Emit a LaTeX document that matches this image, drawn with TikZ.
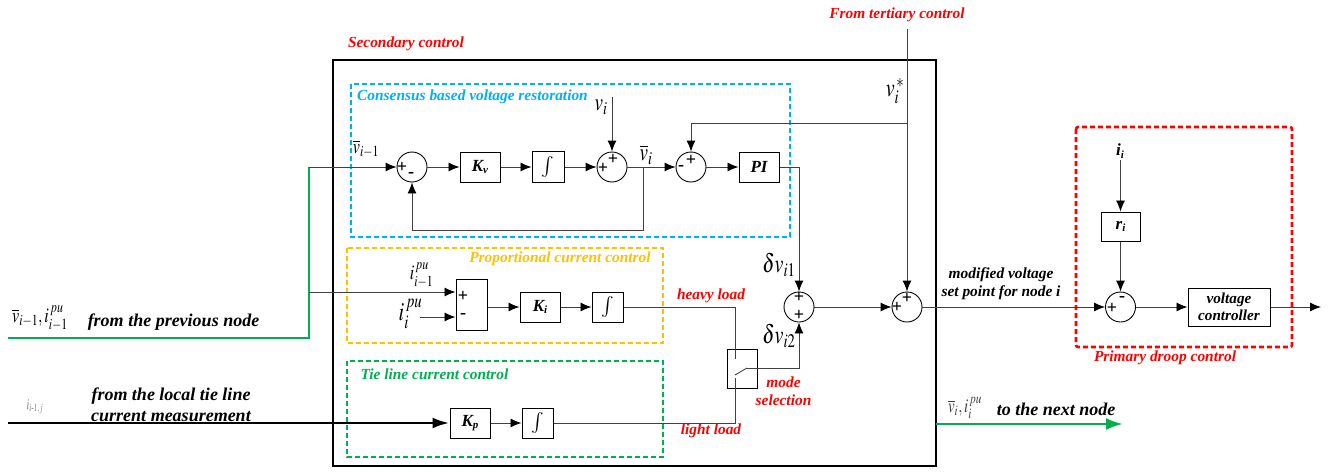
\documentclass[tikz,border=0pt]{standalone}
\usepackage{amsmath}
\usepackage{graphicx}
\usepackage{mathptmx}
\usepackage[no-math]{fontspec}
\setmainfont{Liberation Serif}
\usepackage{tikz}
\usetikzlibrary{arrows.meta}
\newcommand{\tallmath}[1]{\scalebox{1}[1.3]{$#1$}}
\newcommand{\blocksub}[2]{#1\raisebox{-2.5pt}{\fontsize{11}{11}\selectfont #2}}
\newcommand{\intsign}{\fontsize{21}{21}\selectfont$\int$}
\tikzset{
  sumnode/.style={circle,draw,line width=0.9pt,minimum size=30pt,inner sep=0pt,fill=white},
  blocknode/.style={rectangle,draw,line width=1pt,inner sep=0pt,fill=white,font=\fontsize{17}{17}\selectfont\bfseries\itshape},
  signnode/.style={inner sep=0pt,font=\fontsize{18}{18}\selectfont\bfseries},
  labelnode/.style={inner sep=0pt,align=center,font=\fontsize{15.4}{18}\selectfont\bfseries\itshape},
  blacklabel/.style={labelnode,font=\fontsize{18}{21}\selectfont\bfseries\itshape},
  mathnode/.style={inner sep=0pt,font=\fontsize{16}{16}\selectfont},
  conn/.style={line width=0.9pt,draw=black!75,-{Latex[length=11pt,width=9pt,black]}},
  wire/.style={line width=0.9pt,draw=black!75},
  region/.style={line width=2.6pt,dash pattern=on 5pt off 3pt},
}
\definecolor{bluebox}{HTML}{00B0F0}
\definecolor{orangebox}{HTML}{FFC000}
\definecolor{greenbox}{HTML}{00B050}
\begin{document}
\begin{tikzpicture}[x=1pt,y=-1pt]
      \useasboundingbox (0,0) rectangle (1330,471);
      % regions
      \draw[line width=1.8pt] (333,60) rectangle (936,466);
      \draw[region,bluebox] (351,84) rectangle (790,237);
      \draw[region,orangebox] (347,248) rectangle (663,343);
      \draw[region,greenbox] (347,361) rectangle (663,457);
      \draw[region,red,rounded corners=2pt] (1076,127) rectangle (1292,347);
      % restoration row
      \node[sumnode] (sumA) at (412,167) {};
      \node[blocknode,minimum width=40pt,minimum height=30pt] (kv) at (480,167) {\blocksub{K}{v}};
      \node[blocknode,minimum width=32pt,minimum height=31pt] (intA) at (548,167) {\intsign};
      \node[sumnode] (sumB) at (612,167) {};
      \node[sumnode] (sumC) at (691,167) {};
      \node[blocknode,minimum width=40pt,minimum height=30pt] (pi) at (759,167) {PI};
      % current row
      \node[blocknode,minimum width=31pt,minimum height=51pt] (diff) at (471.5,305) {};
      \node[blocknode,minimum width=40pt,minimum height=30pt] (ki) at (540,307) {\blocksub{K}{i}};
      \node[blocknode,minimum width=31pt,minimum height=30pt] (intB) at (607.5,307) {\intsign};
      \node[sumnode] (sumD) at (799,307) {};
      \node[sumnode] (sumE) at (907,307) {};
      \node[sumnode] (sumF) at (1120.5,307) {};
      \node[blocknode,minimum width=82pt,minimum height=38pt,align=center,font=\fontsize{15.2}{17.5}\selectfont\bfseries\itshape] (vctrl) at (1229,307) {voltage\\controller};
      \node[blocknode,minimum width=39pt,minimum height=29pt] (ri) at (1120.5,226.5) {\blocksub{r}{i}};
      % tie line row
      \node[blocknode,minimum width=40pt,minimum height=30pt] (kp) at (470,423) {\blocksub{K}{p}};
      \node[blocknode,minimum width=31pt,minimum height=30pt] (intC) at (537.5,423) {\intsign};
      \node[blocknode,fill=none,minimum width=30pt,minimum height=39pt] (switch) at (742,368.5) {};
      % free ends
      \coordinate (tertiary) at (907,29);
      \coordinate (vinput) at (612,97);
      \coordinate (prevstart) at (8,338);
      \coordinate (prevcorner) at (309,338);
      \coordinate (prevtop) at (309,167);
      \coordinate (prevtap) at (309,292);
      \coordinate (localstart) at (8,423);
      \coordinate (iinput) at (420,317);
      \coordinate (setpoint) at (907,123);
      \coordinate (fbbranch) at (643,167);
      \coordinate (heavy) at (735,307);
      \coordinate (heavyend) at (735,359);
      \coordinate (light) at (735,423);
      \coordinate (lightend) at (735,378);
      \coordinate (armstart) at (735,375);
      \coordinate (armend) at (747,368);
      \coordinate (iiinput) at (1120.5,160);
      \coordinate (outend) at (1321,307);
      \coordinate (nextstart) at (936,424);
      \coordinate (nextend) at (1123,424);
      % connectors
      \draw[line width=2.9pt,greenbox,line join=miter] (prevstart) -- (prevcorner) -- (prevtop);
      \draw[conn] (prevtop) -- (sumA);
      \draw[conn] (sumA) -- (kv);
      \draw[conn] (kv) -- (intA);
      \draw[conn] (intA) -- (sumB);
      \draw[conn] (sumB) -- (sumC);
      \draw[conn] (sumC) -- (pi);
      \draw[conn] (vinput) -- (sumB);
      \draw[conn] (fbbranch) |- (412,230) -- (sumA);
      \draw[conn] (setpoint) -| (sumC);
      \draw[conn] (pi) -| (sumD);
      \draw[conn] (tertiary) -- (sumE);
      \draw[conn] (prevtap) -- (prevtap -| diff.west);
      \draw[conn] (iinput) -- (iinput -| diff.west);
      \draw[conn] (ki.west -| diff.east) -- (ki);
      \draw[conn] (ki) -- (intB);
      \draw[wire] (intB) -- (heavy) -- (heavyend);
      \draw[line width=2.9pt,-{Latex[length=17pt,width=11pt]}] (localstart) -- (kp);
      \draw[conn] (kp) -- (intC);
      \draw[wire] (intC) -- (light) -- (lightend);
      \draw[wire] (armstart) -- (armend);
      \draw[conn] (armend) -| (sumD);
      \draw[conn] (sumD) -- (sumE);
      \draw[conn] (sumE) -- (sumF);
      \draw[conn] (iiinput) -- (ri);
      \draw[conn] (ri) -- (sumF);
      \draw[conn] (sumF) -- (vctrl);
      \draw[conn] (vctrl) -- (outend);
      \draw[line width=2.6pt,greenbox,-{Latex[length=17pt,width=12pt]}] (nextstart) -- (nextend);
      % signs
      \node[signnode] (sA1) at (402,167) {+};
      \node[signnode] (sA2) at (411,175) {-};
      \node[signnode] (sB1) at (603,168) {+};
      \node[signnode] (sB2) at (613,159) {+};
      \node[signnode] (sC1) at (681,168) {-};
      \node[signnode] (sC2) at (691,160) {+};
      \node[signnode] (sD1) at (799,297) {+};
      \node[signnode] (sD2) at (799,315) {+};
      \node[signnode] (sE1) at (897,307) {+};
      \node[signnode] (sE2) at (907,298) {+};
      \node[signnode] (sF1) at (1112,308) {+};
      \node[signnode] (sF2) at (1122,299) {-};
      \node[signnode] (sG1) at (463,296) {+};
      \node[signnode] (sG2) at (463,316) {-};
      % math labels
      \node[mathnode] (lvprev) at (366,149) {\tallmath{\overline{v}_{i-1}}};
      \node[mathnode,font=\fontsize{19}{19}\selectfont] (lvi) at (601,107) {\tallmath{v_i}};
      \node[mathnode,font=\fontsize{19}{19}\selectfont] (lvbar) at (646,155) {\tallmath{\overline{v}_i}};
      \node[mathnode,font=\fontsize{20}{20}\selectfont] (lvstar) at (895,91) {\tallmath{v_i^{\,*}}};
      \node[mathnode,font=\fontsize{20}{20}\selectfont] (ldone) at (779,265) {\tallmath{\delta v_{i1}}};
      \node[mathnode,font=\fontsize{20}{20}\selectfont] (ldtwo) at (779,336) {\tallmath{\delta v_{i2}}};
      \node[mathnode] (lipu) at (421.5,275) {\tallmath{i_{i-1}^{\,pu}}};
      \node[mathnode,font=\fontsize{20}{20}\selectfont] (lii) at (410.5,314) {\tallmath{i_i^{\,pu}}};
      \node[mathnode] (lprev) at (40,318) {\tallmath{\overline{v}_{i-1},i_{i-1}^{\,pu}}};
      \node[mathnode,font=\fontsize{10}{10}\selectfont,black!50] (llocal) at (35,407) {\scalebox{1}[1.5]{$i_{i\text{-}1,j}$}};
      \node[mathnode,font=\fontsize{15}{15}\selectfont,black!75] (lnext) at (965,408) {\tallmath{\overline{v}_i,i_i^{\,pu}}};
      \node[labelnode,font=\fontsize{17}{17}\selectfont\bfseries\itshape] (lii2) at (1120,151) {\blocksub{i}{i}};
      % black labels
      \node[blacklabel] (tprev) at (173.5,322) {from the previous node};
      \node[blacklabel] (tlocal) at (171,405) {from the local tie line\\current measurement};
      \node[labelnode] (tset) at (1001,284) {modified voltage\\set point for node i};
      \node[blacklabel] (tnext) at (1056,409) {to the next node};
      % coloured labels
      \node[labelnode,red] (tsec) at (406,44) {Secondary control};
      \node[labelnode,red] (tter) at (897,15) {From tertiary control};
      \node[labelnode,bluebox] (tcons) at (472.5,97) {Consensus based voltage restoration};
      \node[labelnode,orangebox] (tprop) at (560,259) {Proportional current control};
      \node[labelnode,greenbox] (ttie) at (434.5,374) {Tie line current control};
      \node[labelnode,red] (theavy) at (711,296) {heavy load};
      \node[labelnode,red] (tlight) at (711,431) {light load};
      \node[labelnode,red] (tmode) at (783.5,391) {mode\\selection};
      \node[labelnode,red] (tprim) at (1165,358) {Primary droop control};
    \end{tikzpicture}
\end{document}
